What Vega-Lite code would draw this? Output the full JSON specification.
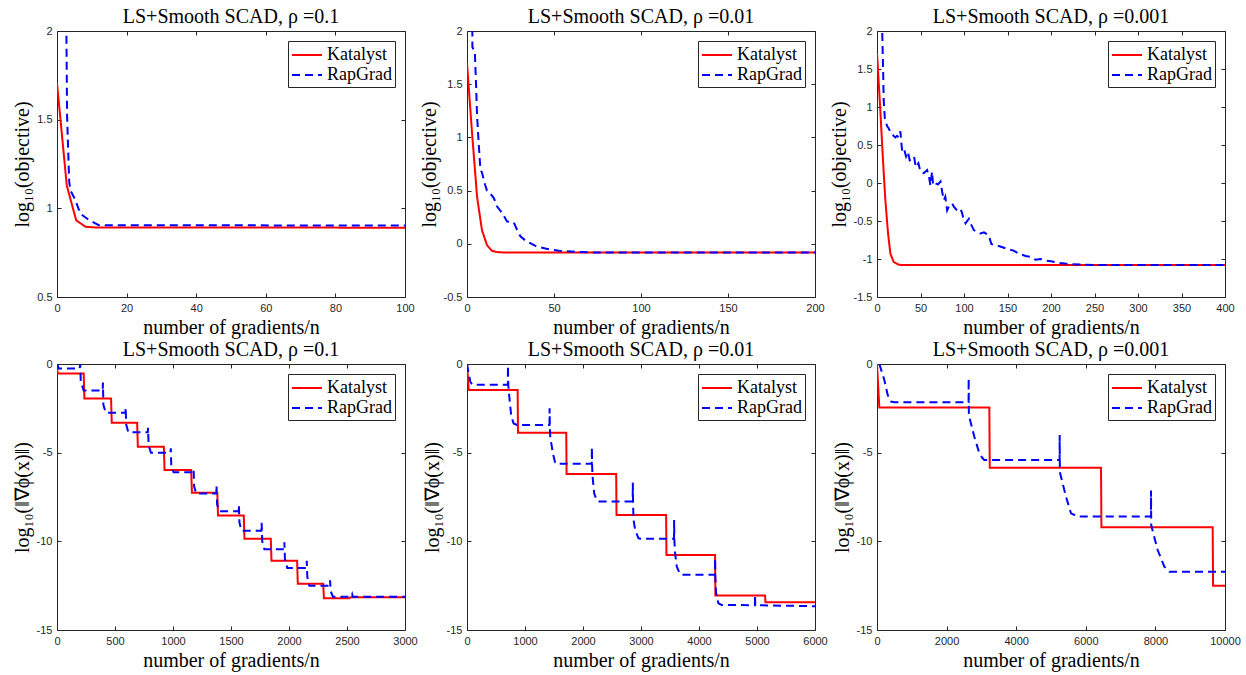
{
  "$schema": "https://vega.github.io/schema/vega-lite/v6.json",
  "padding": {"left": 11, "top": 6, "right": 5, "bottom": 2},
  "datasets": {
    "p1": [
      {"method": "Katalyst", "x": 0, "y": 1.706}, {"method": "Katalyst", "x": 2.8, "y": 1.13}, {"method": "Katalyst", "x": 5.5, "y": 0.933},
      {"method": "Katalyst", "x": 8.2, "y": 0.896}, {"method": "Katalyst", "x": 11, "y": 0.892}, {"method": "Katalyst", "x": 100, "y": 0.891},
      {"method": "RapGrad", "x": 2.65, "y": 3.0}, {"method": "RapGrad", "x": 2.7, "y": 2.0}, {"method": "RapGrad", "x": 2.9, "y": 1.52},
      {"method": "RapGrad", "x": 3.5, "y": 1.15}, {"method": "RapGrad", "x": 3.9, "y": 1.1}, {"method": "RapGrad", "x": 5.2, "y": 1.05},
      {"method": "RapGrad", "x": 6.7, "y": 0.97}, {"method": "RapGrad", "x": 9.1, "y": 0.935}, {"method": "RapGrad", "x": 12, "y": 0.905},
      {"method": "RapGrad", "x": 100, "y": 0.903}
    ],
    "p2": [
      {"method": "Katalyst", "x": 0, "y": 1.70}, {"method": "Katalyst", "x": 2.9, "y": 1.04}, {"method": "Katalyst", "x": 5.8, "y": 0.44},
      {"method": "Katalyst", "x": 8.6, "y": 0.128}, {"method": "Katalyst", "x": 11.5, "y": -0.013}, {"method": "Katalyst", "x": 14.4, "y": -0.067},
      {"method": "Katalyst", "x": 18.2, "y": -0.08}, {"method": "Katalyst", "x": 25, "y": -0.082}, {"method": "Katalyst", "x": 200, "y": -0.082},
      {"method": "RapGrad", "x": 2.9, "y": 3.0}, {"method": "RapGrad", "x": 3.1, "y": 1.85}, {"method": "RapGrad", "x": 4.5, "y": 1.8},
      {"method": "RapGrad", "x": 5.2, "y": 1.5}, {"method": "RapGrad", "x": 5.8, "y": 1.2}, {"method": "RapGrad", "x": 6.7, "y": 0.95},
      {"method": "RapGrad", "x": 7.7, "y": 0.70}, {"method": "RapGrad", "x": 8.6, "y": 0.67}, {"method": "RapGrad", "x": 10.3, "y": 0.56},
      {"method": "RapGrad", "x": 11.5, "y": 0.50}, {"method": "RapGrad", "x": 13, "y": 0.48}, {"method": "RapGrad", "x": 15.4, "y": 0.43},
      {"method": "RapGrad", "x": 17.3, "y": 0.35}, {"method": "RapGrad", "x": 20.2, "y": 0.29}, {"method": "RapGrad", "x": 23, "y": 0.21},
      {"method": "RapGrad", "x": 26.9, "y": 0.2}, {"method": "RapGrad", "x": 28.8, "y": 0.13}, {"method": "RapGrad", "x": 30.7, "y": 0.07},
      {"method": "RapGrad", "x": 33.6, "y": 0.03}, {"method": "RapGrad", "x": 39.3, "y": -0.02}, {"method": "RapGrad", "x": 45, "y": -0.045},
      {"method": "RapGrad", "x": 52.8, "y": -0.065}, {"method": "RapGrad", "x": 62.4, "y": -0.076}, {"method": "RapGrad", "x": 72, "y": -0.082},
      {"method": "RapGrad", "x": 200, "y": -0.082}
    ],
    "p3": [
      {"method": "Katalyst", "x": 0, "y": 1.71}, {"method": "Katalyst", "x": 3.8, "y": 0.96}, {"method": "Katalyst", "x": 6.9, "y": 0.30},
      {"method": "Katalyst", "x": 9.6, "y": -0.225}, {"method": "Katalyst", "x": 12.7, "y": -0.665}, {"method": "Katalyst", "x": 15.4, "y": -0.93},
      {"method": "Katalyst", "x": 19.2, "y": -1.04}, {"method": "Katalyst", "x": 25, "y": -1.075}, {"method": "Katalyst", "x": 30, "y": -1.08},
      {"method": "Katalyst", "x": 400, "y": -1.08},
      {"method": "RapGrad", "x": 5.8, "y": 3.0}, {"method": "RapGrad", "x": 6.0, "y": 2.0}, {"method": "RapGrad", "x": 7.0, "y": 1.5},
      {"method": "RapGrad", "x": 7.7, "y": 1.09}, {"method": "RapGrad", "x": 9, "y": 0.85}, {"method": "RapGrad", "x": 10.4, "y": 0.80},
      {"method": "RapGrad", "x": 11.5, "y": 0.75}, {"method": "RapGrad", "x": 13.4, "y": 0.72}, {"method": "RapGrad", "x": 15, "y": 0.68},
      {"method": "RapGrad", "x": 17.3, "y": 0.66}, {"method": "RapGrad", "x": 19, "y": 0.62}, {"method": "RapGrad", "x": 21.1, "y": 0.60},
      {"method": "RapGrad", "x": 23, "y": 0.62}, {"method": "RapGrad", "x": 25, "y": 0.60}, {"method": "RapGrad", "x": 26.9, "y": 0.68},
      {"method": "RapGrad", "x": 28, "y": 0.52}, {"method": "RapGrad", "x": 29, "y": 0.42}, {"method": "RapGrad", "x": 31, "y": 0.45},
      {"method": "RapGrad", "x": 33.4, "y": 0.35}, {"method": "RapGrad", "x": 35.5, "y": 0.41}, {"method": "RapGrad", "x": 37.6, "y": 0.30},
      {"method": "RapGrad", "x": 40, "y": 0.32}, {"method": "RapGrad", "x": 42.6, "y": 0.35}, {"method": "RapGrad", "x": 44.5, "y": 0.21},
      {"method": "RapGrad", "x": 47.6, "y": 0.26}, {"method": "RapGrad", "x": 49.9, "y": 0.15}, {"method": "RapGrad", "x": 53.7, "y": 0.13},
      {"method": "RapGrad", "x": 57.6, "y": 0.17}, {"method": "RapGrad", "x": 59.5, "y": 0.10}, {"method": "RapGrad", "x": 61.4, "y": -0.03},
      {"method": "RapGrad", "x": 63.3, "y": 0.15}, {"method": "RapGrad", "x": 64.5, "y": -0.03}, {"method": "RapGrad", "x": 67.2, "y": -0.005},
      {"method": "RapGrad", "x": 70, "y": -0.02}, {"method": "RapGrad", "x": 73, "y": 0.02}, {"method": "RapGrad", "x": 74.9, "y": -0.115},
      {"method": "RapGrad", "x": 76.8, "y": -0.225}, {"method": "RapGrad", "x": 78.5, "y": -0.18}, {"method": "RapGrad", "x": 80.6, "y": -0.36},
      {"method": "RapGrad", "x": 83, "y": -0.30}, {"method": "RapGrad", "x": 86.4, "y": -0.27}, {"method": "RapGrad", "x": 88.3, "y": -0.31},
      {"method": "RapGrad", "x": 92, "y": -0.36}, {"method": "RapGrad", "x": 96, "y": -0.34}, {"method": "RapGrad", "x": 97.9, "y": -0.40},
      {"method": "RapGrad", "x": 99.8, "y": -0.49}, {"method": "RapGrad", "x": 101.7, "y": -0.53}, {"method": "RapGrad", "x": 105.6, "y": -0.47},
      {"method": "RapGrad", "x": 107.5, "y": -0.53}, {"method": "RapGrad", "x": 111.3, "y": -0.62}, {"method": "RapGrad", "x": 115, "y": -0.64},
      {"method": "RapGrad", "x": 119, "y": -0.665}, {"method": "RapGrad", "x": 123, "y": -0.65}, {"method": "RapGrad", "x": 128.6, "y": -0.69},
      {"method": "RapGrad", "x": 131.3, "y": -0.80}, {"method": "RapGrad", "x": 135, "y": -0.82}, {"method": "RapGrad", "x": 140, "y": -0.83},
      {"method": "RapGrad", "x": 147.8, "y": -0.86}, {"method": "RapGrad", "x": 157, "y": -0.89}, {"method": "RapGrad", "x": 163, "y": -0.93},
      {"method": "RapGrad", "x": 170.8, "y": -0.96}, {"method": "RapGrad", "x": 176, "y": -0.97}, {"method": "RapGrad", "x": 182.3, "y": -1.01},
      {"method": "RapGrad", "x": 188, "y": -1.00}, {"method": "RapGrad", "x": 194, "y": -1.02}, {"method": "RapGrad", "x": 200, "y": -1.03},
      {"method": "RapGrad", "x": 209, "y": -1.05}, {"method": "RapGrad", "x": 216, "y": -1.06}, {"method": "RapGrad", "x": 224.6, "y": -1.07},
      {"method": "RapGrad", "x": 240, "y": -1.075}, {"method": "RapGrad", "x": 259, "y": -1.08}, {"method": "RapGrad", "x": 400, "y": -1.08}
    ],
    "p4": [
      {"method": "Katalyst", "x": 0, "y": 0}, {"method": "Katalyst", "x": 5, "y": -0.53}, {"method": "Katalyst", "x": 230, "y": -0.53},
      {"method": "Katalyst", "x": 236, "y": -1.94}, {"method": "Katalyst", "x": 466, "y": -1.94}, {"method": "Katalyst", "x": 472, "y": -3.31},
      {"method": "Katalyst", "x": 691, "y": -3.31}, {"method": "Katalyst", "x": 697, "y": -4.66}, {"method": "Katalyst", "x": 921, "y": -4.66},
      {"method": "Katalyst", "x": 927, "y": -5.98}, {"method": "Katalyst", "x": 1157, "y": -5.98}, {"method": "Katalyst", "x": 1163, "y": -7.26},
      {"method": "Katalyst", "x": 1382, "y": -7.26}, {"method": "Katalyst", "x": 1388, "y": -8.55}, {"method": "Katalyst", "x": 1610, "y": -8.55},
      {"method": "Katalyst", "x": 1616, "y": -9.85}, {"method": "Katalyst", "x": 1843, "y": -9.85}, {"method": "Katalyst", "x": 1849, "y": -11.09},
      {"method": "Katalyst", "x": 2070, "y": -11.09}, {"method": "Katalyst", "x": 2076, "y": -12.39}, {"method": "Katalyst", "x": 2295, "y": -12.39},
      {"method": "Katalyst", "x": 2301, "y": -13.21}, {"method": "Katalyst", "x": 2520, "y": -13.21}, {"method": "Katalyst", "x": 2530, "y": -13.15},
      {"method": "Katalyst", "x": 3000, "y": -13.15},
      {"method": "RapGrad", "x": 0, "y": 0}, {"method": "RapGrad", "x": 15, "y": -0.25}, {"method": "RapGrad", "x": 195, "y": -0.25},
      {"method": "RapGrad", "x": 200, "y": 0}, {"method": "RapGrad", "x": 205, "y": -1.0}, {"method": "RapGrad", "x": 230, "y": -1.5},
      {"method": "RapGrad", "x": 394, "y": -1.5}, {"method": "RapGrad", "x": 396, "y": -1.05}, {"method": "RapGrad", "x": 400, "y": -2.3},
      {"method": "RapGrad", "x": 420, "y": -2.75}, {"method": "RapGrad", "x": 590, "y": -2.75}, {"method": "RapGrad", "x": 592, "y": -2.45},
      {"method": "RapGrad", "x": 596, "y": -3.4}, {"method": "RapGrad", "x": 615, "y": -3.85}, {"method": "RapGrad", "x": 783, "y": -3.85},
      {"method": "RapGrad", "x": 785, "y": -3.6}, {"method": "RapGrad", "x": 790, "y": -4.6}, {"method": "RapGrad", "x": 810, "y": -5.0},
      {"method": "RapGrad", "x": 979, "y": -5.0}, {"method": "RapGrad", "x": 981, "y": -4.75}, {"method": "RapGrad", "x": 985, "y": -5.7},
      {"method": "RapGrad", "x": 1005, "y": -6.1}, {"method": "RapGrad", "x": 1175, "y": -6.1}, {"method": "RapGrad", "x": 1178, "y": -5.95},
      {"method": "RapGrad", "x": 1182, "y": -6.9}, {"method": "RapGrad", "x": 1200, "y": -7.3}, {"method": "RapGrad", "x": 1373, "y": -7.3},
      {"method": "RapGrad", "x": 1375, "y": -6.85}, {"method": "RapGrad", "x": 1380, "y": -7.9}, {"method": "RapGrad", "x": 1398, "y": -8.3},
      {"method": "RapGrad", "x": 1566, "y": -8.3}, {"method": "RapGrad", "x": 1568, "y": -7.95}, {"method": "RapGrad", "x": 1573, "y": -8.95},
      {"method": "RapGrad", "x": 1590, "y": -9.4}, {"method": "RapGrad", "x": 1762, "y": -9.4}, {"method": "RapGrad", "x": 1764, "y": -8.95},
      {"method": "RapGrad", "x": 1769, "y": -10.0}, {"method": "RapGrad", "x": 1788, "y": -10.45}, {"method": "RapGrad", "x": 1958, "y": -10.45},
      {"method": "RapGrad", "x": 1960, "y": -10.05}, {"method": "RapGrad", "x": 1965, "y": -11.0}, {"method": "RapGrad", "x": 1985, "y": -11.5},
      {"method": "RapGrad", "x": 2151, "y": -11.5}, {"method": "RapGrad", "x": 2153, "y": -11.1}, {"method": "RapGrad", "x": 2158, "y": -12.0},
      {"method": "RapGrad", "x": 2175, "y": -12.5}, {"method": "RapGrad", "x": 2352, "y": -12.5}, {"method": "RapGrad", "x": 2354, "y": -12.2},
      {"method": "RapGrad", "x": 2359, "y": -12.8}, {"method": "RapGrad", "x": 2378, "y": -13.12}, {"method": "RapGrad", "x": 2540, "y": -13.12},
      {"method": "RapGrad", "x": 2545, "y": -13.0}, {"method": "RapGrad", "x": 2550, "y": -13.12}, {"method": "RapGrad", "x": 3000, "y": -13.12}
    ],
    "p5": [
      {"method": "Katalyst", "x": 0, "y": 0}, {"method": "Katalyst", "x": 30, "y": -1.47}, {"method": "Katalyst", "x": 873, "y": -1.47},
      {"method": "Katalyst", "x": 879, "y": -3.87}, {"method": "Katalyst", "x": 1711, "y": -3.87}, {"method": "Katalyst", "x": 1717, "y": -6.2},
      {"method": "Katalyst", "x": 2572, "y": -6.2}, {"method": "Katalyst", "x": 2578, "y": -8.52}, {"method": "Katalyst", "x": 3433, "y": -8.52},
      {"method": "Katalyst", "x": 3439, "y": -10.77}, {"method": "Katalyst", "x": 4277, "y": -10.77}, {"method": "Katalyst", "x": 4283, "y": -13.06},
      {"method": "Katalyst", "x": 5139, "y": -13.06}, {"method": "Katalyst", "x": 5145, "y": -13.44}, {"method": "Katalyst", "x": 6000, "y": -13.44},
      {"method": "RapGrad", "x": 0, "y": 0}, {"method": "RapGrad", "x": 29, "y": -0.53}, {"method": "RapGrad", "x": 57, "y": -1.0},
      {"method": "RapGrad", "x": 86, "y": -1.15}, {"method": "RapGrad", "x": 150, "y": -1.17}, {"method": "RapGrad", "x": 704, "y": -1.17},
      {"method": "RapGrad", "x": 706, "y": -0.1}, {"method": "RapGrad", "x": 712, "y": -1.2}, {"method": "RapGrad", "x": 729, "y": -1.84},
      {"method": "RapGrad", "x": 764, "y": -2.97}, {"method": "RapGrad", "x": 804, "y": -3.35}, {"method": "RapGrad", "x": 861, "y": -3.44},
      {"method": "RapGrad", "x": 1422, "y": -3.44}, {"method": "RapGrad", "x": 1424, "y": -2.5}, {"method": "RapGrad", "x": 1428, "y": -3.5},
      {"method": "RapGrad", "x": 1435, "y": -4.1}, {"method": "RapGrad", "x": 1481, "y": -5.04}, {"method": "RapGrad", "x": 1522, "y": -5.6},
      {"method": "RapGrad", "x": 1560, "y": -5.62}, {"method": "RapGrad", "x": 2151, "y": -5.62}, {"method": "RapGrad", "x": 2153, "y": -4.7},
      {"method": "RapGrad", "x": 2157, "y": -5.7}, {"method": "RapGrad", "x": 2165, "y": -6.35}, {"method": "RapGrad", "x": 2193, "y": -7.3},
      {"method": "RapGrad", "x": 2239, "y": -7.7}, {"method": "RapGrad", "x": 2280, "y": -7.75}, {"method": "RapGrad", "x": 2857, "y": -7.75},
      {"method": "RapGrad", "x": 2859, "y": -6.69}, {"method": "RapGrad", "x": 2863, "y": -7.8}, {"method": "RapGrad", "x": 2871, "y": -8.8},
      {"method": "RapGrad", "x": 2900, "y": -9.36}, {"method": "RapGrad", "x": 2957, "y": -9.83}, {"method": "RapGrad", "x": 3000, "y": -9.85},
      {"method": "RapGrad", "x": 3569, "y": -9.85}, {"method": "RapGrad", "x": 3571, "y": -8.8}, {"method": "RapGrad", "x": 3575, "y": -9.9},
      {"method": "RapGrad", "x": 3588, "y": -10.68}, {"method": "RapGrad", "x": 3617, "y": -11.43}, {"method": "RapGrad", "x": 3675, "y": -11.86},
      {"method": "RapGrad", "x": 3720, "y": -11.88}, {"method": "RapGrad", "x": 4275, "y": -11.88}, {"method": "RapGrad", "x": 4277, "y": -10.96},
      {"method": "RapGrad", "x": 4281, "y": -12.0}, {"method": "RapGrad", "x": 4295, "y": -12.93}, {"method": "RapGrad", "x": 4335, "y": -13.5},
      {"method": "RapGrad", "x": 4392, "y": -13.59}, {"method": "RapGrad", "x": 4964, "y": -13.6}, {"method": "RapGrad", "x": 4966, "y": -13.03},
      {"method": "RapGrad", "x": 4970, "y": -13.6}, {"method": "RapGrad", "x": 6000, "y": -13.66}
    ],
    "p6": [
      {"method": "Katalyst", "x": 0, "y": 0}, {"method": "Katalyst", "x": 67, "y": -2.46}, {"method": "Katalyst", "x": 3228, "y": -2.46},
      {"method": "Katalyst", "x": 3240, "y": -5.85}, {"method": "Katalyst", "x": 6437, "y": -5.85}, {"method": "Katalyst", "x": 6449, "y": -9.21},
      {"method": "Katalyst", "x": 9646, "y": -9.21}, {"method": "Katalyst", "x": 9658, "y": -12.5}, {"method": "Katalyst", "x": 10000, "y": -12.5},
      {"method": "RapGrad", "x": 67, "y": 0}, {"method": "RapGrad", "x": 211, "y": -0.9}, {"method": "RapGrad", "x": 307, "y": -1.75},
      {"method": "RapGrad", "x": 402, "y": -2.12}, {"method": "RapGrad", "x": 498, "y": -2.16}, {"method": "RapGrad", "x": 2632, "y": -2.16},
      {"method": "RapGrad", "x": 2634, "y": -0.8}, {"method": "RapGrad", "x": 2640, "y": -2.9}, {"method": "RapGrad", "x": 2797, "y": -4.1},
      {"method": "RapGrad", "x": 2941, "y": -5.04}, {"method": "RapGrad", "x": 3036, "y": -5.32}, {"method": "RapGrad", "x": 3084, "y": -5.41},
      {"method": "RapGrad", "x": 3150, "y": -5.42}, {"method": "RapGrad", "x": 5247, "y": -5.42}, {"method": "RapGrad", "x": 5249, "y": -4.0},
      {"method": "RapGrad", "x": 5255, "y": -6.1}, {"method": "RapGrad", "x": 5431, "y": -7.48}, {"method": "RapGrad", "x": 5575, "y": -8.42},
      {"method": "RapGrad", "x": 5766, "y": -8.6}, {"method": "RapGrad", "x": 7872, "y": -8.6}, {"method": "RapGrad", "x": 7874, "y": -7.14},
      {"method": "RapGrad", "x": 7880, "y": -9.1}, {"method": "RapGrad", "x": 8065, "y": -10.49}, {"method": "RapGrad", "x": 8257, "y": -11.43},
      {"method": "RapGrad", "x": 8400, "y": -11.71}, {"method": "RapGrad", "x": 10000, "y": -11.71}
    ]
  },
  "config": {
    "view": {"stroke": "#262626", "strokeWidth": 1},
    "font": "Liberation Serif",
    "title": {"font": "Liberation Serif", "fontSize": 20, "fontWeight": "normal", "color": "black", "offset": -2},
    "axis": {
      "grid": false, "domain": false, "ticks": true, "tickColor": "#262626", "tickSize": -4, "tickWidth": 1,
      "labelFont": "Liberation Sans", "labelFontSize": 11, "labelColor": "#262626", "labelPadding": 9,
      "labelFlush": false, "labelOverlap": false, "labelBound": false,
      "titleFont": "Liberation Serif", "titleFontSize": 20, "titleFontWeight": "normal", "titleColor": "black"
    },
    "axisX": {"titlePadding": 4},
    "axisY": {"titlePadding": 4},
    "legend": {
      "orient": "top-right", "offset": 10, "title": null,
      "labelFont": "Liberation Serif", "labelFontSize": 18, "labelColor": "black", "labelLimit": 200,
      "strokeColor": "#262626", "fillColor": "white", "padding": 3, "cornerRadius": 0,
      "symbolType": "M-1,0H2", "symbolSize": 400, "symbolStrokeWidth": 2, "rowPadding": 0, "labelOffset": 14
    }
  },
  "columns": 3,
  "spacing": {"row": 67, "column": 62},
  "bounds": "flush",
  "resolve": {
    "scale": {"color": "independent", "strokeDash": "independent"},
    "legend": {"color": "independent", "strokeDash": "independent"}
  },
  "concat": [
    {
      "width": 348, "height": 266, "title": "LS+Smooth SCAD, ρ =0.1", "data": {"name": "p1"},
      "layer": [
        {"mark": {"type": "line", "clip": true, "strokeWidth": 2},
         "encoding": {
           "x": {"field": "x", "type": "quantitative", "scale": {"domain": [0, 100], "nice": false, "zero": false}, "axis": {"title": "number of gradients/n", "values": [0, 20, 40, 60, 80, 100], "labelExpr": "'' + datum.value"}},
           "y": {"field": "y", "type": "quantitative", "scale": {"domain": [0.5, 2], "nice": false, "zero": false}, "axis": {"title": "log₁₀(objective)", "values": [0.5, 1, 1.5, 2], "labelExpr": "'' + datum.value"}},
           "color": {"field": "method", "type": "nominal", "scale": {"domain": ["Katalyst", "RapGrad"], "range": ["#ff0000", "#0000ff"]}},
           "strokeDash": {"field": "method", "type": "nominal", "scale": {"domain": ["Katalyst", "RapGrad"], "range": [[1, 0], [8, 5]]}}
         }},
        {"mark": {"type": "point", "opacity": 0, "clip": true},
         "encoding": {
           "x": {"field": "x", "type": "quantitative", "axis": {"orient": "top", "labels": false, "title": null, "values": [0, 20, 40, 60, 80, 100]}},
           "y": {"field": "y", "type": "quantitative", "axis": {"orient": "right", "labels": false, "title": null, "values": [0.5, 1, 1.5, 2]}}
         }}
      ],
      "resolve": {"axis": {"x": "independent", "y": "independent"}}
    },
    {
      "width": 348, "height": 266, "title": "LS+Smooth SCAD, ρ =0.01", "data": {"name": "p2"},
      "layer": [
        {"mark": {"type": "line", "clip": true, "strokeWidth": 2},
         "encoding": {
           "x": {"field": "x", "type": "quantitative", "scale": {"domain": [0, 200], "nice": false, "zero": false}, "axis": {"title": "number of gradients/n", "values": [0, 50, 100, 150, 200], "labelExpr": "'' + datum.value"}},
           "y": {"field": "y", "type": "quantitative", "scale": {"domain": [-0.5, 2], "nice": false, "zero": false}, "axis": {"title": "log₁₀(objective)", "values": [-0.5, 0, 0.5, 1, 1.5, 2], "labelExpr": "'' + datum.value"}},
           "color": {"field": "method", "type": "nominal", "scale": {"domain": ["Katalyst", "RapGrad"], "range": ["#ff0000", "#0000ff"]}},
           "strokeDash": {"field": "method", "type": "nominal", "scale": {"domain": ["Katalyst", "RapGrad"], "range": [[1, 0], [8, 5]]}}
         }},
        {"mark": {"type": "point", "opacity": 0, "clip": true},
         "encoding": {
           "x": {"field": "x", "type": "quantitative", "axis": {"orient": "top", "labels": false, "title": null, "values": [0, 50, 100, 150, 200]}},
           "y": {"field": "y", "type": "quantitative", "axis": {"orient": "right", "labels": false, "title": null, "values": [-0.5, 0, 0.5, 1, 1.5, 2]}}
         }}
      ],
      "resolve": {"axis": {"x": "independent", "y": "independent"}}
    },
    {
      "width": 348, "height": 266, "title": "LS+Smooth SCAD, ρ =0.001", "data": {"name": "p3"},
      "layer": [
        {"mark": {"type": "line", "clip": true, "strokeWidth": 2},
         "encoding": {
           "x": {"field": "x", "type": "quantitative", "scale": {"domain": [0, 400], "nice": false, "zero": false}, "axis": {"title": "number of gradients/n", "values": [0, 50, 100, 150, 200, 250, 300, 350, 400], "labelExpr": "'' + datum.value"}},
           "y": {"field": "y", "type": "quantitative", "scale": {"domain": [-1.5, 2], "nice": false, "zero": false}, "axis": {"title": "log₁₀(objective)", "values": [-1.5, -1, -0.5, 0, 0.5, 1, 1.5, 2], "labelExpr": "'' + datum.value"}},
           "color": {"field": "method", "type": "nominal", "scale": {"domain": ["Katalyst", "RapGrad"], "range": ["#ff0000", "#0000ff"]}},
           "strokeDash": {"field": "method", "type": "nominal", "scale": {"domain": ["Katalyst", "RapGrad"], "range": [[1, 0], [8, 5]]}}
         }},
        {"mark": {"type": "point", "opacity": 0, "clip": true},
         "encoding": {
           "x": {"field": "x", "type": "quantitative", "axis": {"orient": "top", "labels": false, "title": null, "values": [0, 50, 100, 150, 200, 250, 300, 350, 400]}},
           "y": {"field": "y", "type": "quantitative", "axis": {"orient": "right", "labels": false, "title": null, "values": [-1.5, -1, -0.5, 0, 0.5, 1, 1.5, 2]}}
         }}
      ],
      "resolve": {"axis": {"x": "independent", "y": "independent"}}
    },
    {
      "width": 348, "height": 266, "title": "LS+Smooth SCAD, ρ =0.1", "data": {"name": "p4"},
      "layer": [
        {"mark": {"type": "line", "clip": true, "strokeWidth": 2},
         "encoding": {
           "x": {"field": "x", "type": "quantitative", "scale": {"domain": [0, 3000], "nice": false, "zero": false}, "axis": {"title": "number of gradients/n", "values": [0, 500, 1000, 1500, 2000, 2500, 3000], "labelExpr": "'' + datum.value"}},
           "y": {"field": "y", "type": "quantitative", "scale": {"domain": [-15, 0], "nice": false, "zero": false}, "axis": {"title": "log₁₀(‖∇ϕ(x)‖)", "values": [-15, -10, -5, 0], "labelExpr": "'' + datum.value"}},
           "color": {"field": "method", "type": "nominal", "scale": {"domain": ["Katalyst", "RapGrad"], "range": ["#ff0000", "#0000ff"]}},
           "strokeDash": {"field": "method", "type": "nominal", "scale": {"domain": ["Katalyst", "RapGrad"], "range": [[1, 0], [8, 5]]}}
         }},
        {"mark": {"type": "point", "opacity": 0, "clip": true},
         "encoding": {
           "x": {"field": "x", "type": "quantitative", "axis": {"orient": "top", "labels": false, "title": null, "values": [0, 500, 1000, 1500, 2000, 2500, 3000]}},
           "y": {"field": "y", "type": "quantitative", "axis": {"orient": "right", "labels": false, "title": null, "values": [-15, -10, -5, 0]}}
         }}
      ],
      "resolve": {"axis": {"x": "independent", "y": "independent"}}
    },
    {
      "width": 348, "height": 266, "title": "LS+Smooth SCAD, ρ =0.01", "data": {"name": "p5"},
      "layer": [
        {"mark": {"type": "line", "clip": true, "strokeWidth": 2},
         "encoding": {
           "x": {"field": "x", "type": "quantitative", "scale": {"domain": [0, 6000], "nice": false, "zero": false}, "axis": {"title": "number of gradients/n", "values": [0, 1000, 2000, 3000, 4000, 5000, 6000], "labelExpr": "'' + datum.value"}},
           "y": {"field": "y", "type": "quantitative", "scale": {"domain": [-15, 0], "nice": false, "zero": false}, "axis": {"title": "log₁₀(‖∇ϕ(x)‖)", "values": [-15, -10, -5, 0], "labelExpr": "'' + datum.value"}},
           "color": {"field": "method", "type": "nominal", "scale": {"domain": ["Katalyst", "RapGrad"], "range": ["#ff0000", "#0000ff"]}},
           "strokeDash": {"field": "method", "type": "nominal", "scale": {"domain": ["Katalyst", "RapGrad"], "range": [[1, 0], [8, 5]]}}
         }},
        {"mark": {"type": "point", "opacity": 0, "clip": true},
         "encoding": {
           "x": {"field": "x", "type": "quantitative", "axis": {"orient": "top", "labels": false, "title": null, "values": [0, 1000, 2000, 3000, 4000, 5000, 6000]}},
           "y": {"field": "y", "type": "quantitative", "axis": {"orient": "right", "labels": false, "title": null, "values": [-15, -10, -5, 0]}}
         }}
      ],
      "resolve": {"axis": {"x": "independent", "y": "independent"}}
    },
    {
      "width": 348, "height": 266, "title": "LS+Smooth SCAD, ρ =0.001", "data": {"name": "p6"},
      "layer": [
        {"mark": {"type": "line", "clip": true, "strokeWidth": 2},
         "encoding": {
           "x": {"field": "x", "type": "quantitative", "scale": {"domain": [0, 10000], "nice": false, "zero": false}, "axis": {"title": "number of gradients/n", "values": [0, 2000, 4000, 6000, 8000, 10000], "labelExpr": "'' + datum.value"}},
           "y": {"field": "y", "type": "quantitative", "scale": {"domain": [-15, 0], "nice": false, "zero": false}, "axis": {"title": "log₁₀(‖∇ϕ(x)‖)", "values": [-15, -10, -5, 0], "labelExpr": "'' + datum.value"}},
           "color": {"field": "method", "type": "nominal", "scale": {"domain": ["Katalyst", "RapGrad"], "range": ["#ff0000", "#0000ff"]}},
           "strokeDash": {"field": "method", "type": "nominal", "scale": {"domain": ["Katalyst", "RapGrad"], "range": [[1, 0], [8, 5]]}}
         }},
        {"mark": {"type": "point", "opacity": 0, "clip": true},
         "encoding": {
           "x": {"field": "x", "type": "quantitative", "axis": {"orient": "top", "labels": false, "title": null, "values": [0, 2000, 4000, 6000, 8000, 10000]}},
           "y": {"field": "y", "type": "quantitative", "axis": {"orient": "right", "labels": false, "title": null, "values": [-15, -10, -5, 0]}}
         }}
      ],
      "resolve": {"axis": {"x": "independent", "y": "independent"}}
    }
  ]
}
